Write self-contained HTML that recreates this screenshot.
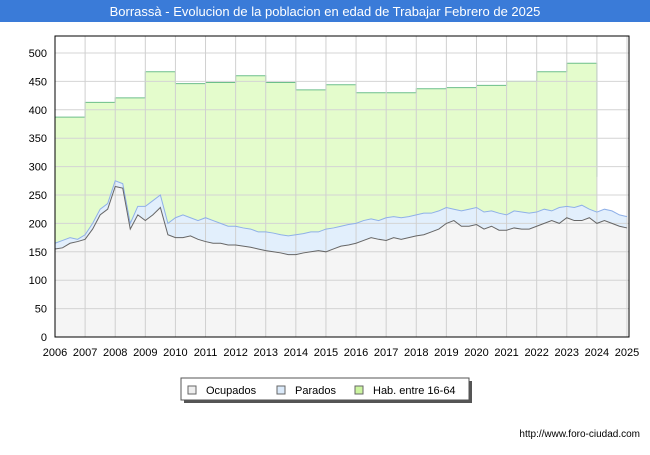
<!DOCTYPE html>
<html><head><meta charset="utf-8"><style>
body{margin:0;width:650px;height:450px;background:#fff;font-family:"Liberation Sans",sans-serif;overflow:hidden}
</style></head><body>
<svg width="650" height="450" xmlns="http://www.w3.org/2000/svg">
<rect x="0" y="0" width="650" height="22" fill="#3a7bd8"/>
<text x="325" y="16" text-anchor="middle" fill="#fff" font-size="13">Borrassà - Evolucion de la poblacion en edad de Trabajar Febrero de 2025</text>
<g id="plot"></g>
<g>
<rect x="184" y="381" width="288" height="22" fill="#555"/>
<rect x="181" y="378" width="288" height="22" fill="#fff" stroke="#555"/>
<rect x="188" y="386" width="8" height="8" fill="#eee" stroke="#666"/>
<text x="206" y="394" font-size="11">Ocupados</text>
<rect x="277" y="386" width="8" height="8" fill="#dbeafa" stroke="#666"/>
<text x="295" y="394" font-size="11">Parados</text>
<rect x="355" y="386" width="8" height="8" fill="#ccf5a0" stroke="#666"/>
<text x="373" y="394" font-size="11">Hab. entre 16-64</text>
</g>
<text x="640" y="437" text-anchor="end" font-size="10">http://www.foro-ciudad.com</text>
</svg>
<script>
const years=[2006,2007,2008,2009,2010,2011,2012,2013,2014,2015,2016,2017,2018,2019,2020,2021,2022,2023,2024,2025];
const yTicks=[0,50,100,150,200,250,300,350,400,450,500];
const habYears=[2006,2007,2008,2009,2010,2011,2012,2013,2014,2015,2016,2017,2018,2019,2020,2021,2022,2023,2024];
const hab=[387,413,421,467,446,448,460,448,435,444,430,430,437,439,443,450,467,482,282];
const ocupados=[155,157,165,168,172,190,215,225,265,262,190,215,205,215,228,180,175,175,178,172,168,165,165,162,162,160,158,155,152,150,148,145,145,148,150,152,150,155,160,162,165,170,175,172,170,175,172,175,178,180,185,190,200,205,195,195,198,190,195,188,188,192,190,190,195,200,205,200,210,205,205,210,200,205,200,195,192];
const parados=[10,13,10,4,8,10,10,10,10,8,10,15,25,25,22,20,35,40,32,33,42,40,35,33,33,32,32,30,33,33,32,33,35,34,35,33,40,37,35,36,35,35,33,33,40,37,38,37,37,38,33,32,28,20,27,30,30,30,27,30,27,30,30,28,25,25,17,28,20,23,27,15,20,20,22,20,20];
const X0=55,X1=627,Y0=337,Y1=53;
const xs=t=>X0+(t-2006)/(19)*(X1-X0);
const ys=v=>Y0-v/500*(Y0-Y1);
const NS="http://www.w3.org/2000/svg";
const g=document.getElementById('plot');
function mk(tag,attrs,parent){const e=document.createElementNS(NS,tag);for(const k in attrs)e.setAttribute(k,attrs[k]);(parent||g).appendChild(e);return e;}
const bg=mk('rect',{x:X0,y:36,width:574,height:301,fill:'#fff',stroke:'none'});


// hab area
let d=`M${xs(2006)},${ys(0)}`;
for(let i=0;i<habYears.length-1;i++){d+=` L${xs(habYears[i])},${ys(hab[i])} L${xs(habYears[i+1])},${ys(hab[i])}`;}
const last=habYears.length-1;
d+=` L${xs(habYears[last])},${ys(hab[last])} L${xs(habYears[last])},${ys(0)} Z`;
const ha=mk('path',{d:d,fill:'#e4fccc',stroke:'none'});


let dl=`M${xs(2006)},${ys(hab[0])}`;
for(let i=0;i<habYears.length-1;i++){dl+=` L${xs(habYears[i+1])},${ys(hab[i])} L${xs(habYears[i+1])},${ys(hab[i+1])}`;}
const hl=mk('path',{d:dl,fill:'none',stroke:'#6cbf8a','stroke-width':1});


const tq=i=>2006+i/4;
// total area
const tot=ocupados.map((v,i)=>v+parados[i]);
let dt=`M${xs(tq(0))},${ys(0)}`;tot.forEach((v,i)=>dt+=` L${xs(tq(i))},${ys(v)}`);dt+=` L${xs(tq(tot.length-1))},${ys(0)} Z`;
const pa=mk('path',{d:dt,fill:'#e2effc',stroke:'none'});


let dox=`M${xs(tq(0))},${ys(0)}`;ocupados.forEach((v,i)=>dox+=` L${xs(tq(i))},${ys(v)}`);dox+=` L${xs(tq(ocupados.length-1))},${ys(0)} Z`;
const oa=mk('path',{d:dox,fill:'#f5f5f5',stroke:'none'});


// grid
yTicks.forEach(v=>{const l=mk('line',{x1:X0,x2:629,y1:ys(v),y2:ys(v),stroke:'#d4d4d4'});


const t=mk('text',{x:47,y:ys(v)+4,'text-anchor':'end','font-size':11});t.textContent=v;

});
years.forEach(y=>{const l=mk('line',{x1:xs(y),x2:xs(y),y1:36,y2:Y0,stroke:'#d0d0d0'});


const t=mk('text',{x:xs(y),y:356,'text-anchor':'middle','font-size':11});t.textContent=y;

});
// lines
let lt=`M`+tot.map((v,i)=>`${xs(tq(i))},${ys(v)}`).join(' L');
const pl=mk('path',{d:lt,fill:'none',stroke:'#8fb0e8','stroke-width':1});


let lo=`M`+ocupados.map((v,i)=>`${xs(tq(i))},${ys(v)}`).join(' L');
const ol=mk('path',{d:lo,fill:'none',stroke:'#666','stroke-width':1});


const fr=mk('rect',{x:X0,y:36,width:574,height:301,fill:'none',stroke:'#000'});


</script>
</body></html>
